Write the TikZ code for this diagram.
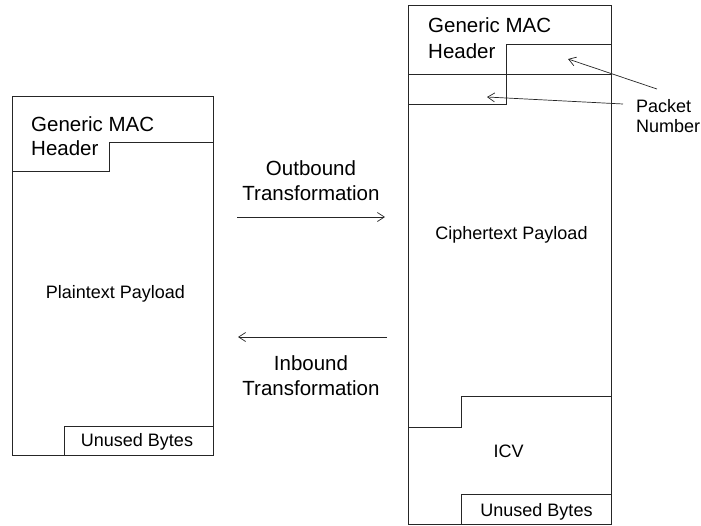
\documentclass[tikz,border=0pt]{standalone}
\usepackage{fontspec}
\setmainfont{Liberation Sans}
\usetikzlibrary{arrows.meta}
\begin{document}
\begin{tikzpicture}[x=1pt,y=-1pt,
  ln/.style={line width=0.7pt,draw=black!85},
  big/.style={font=\fontsize{20.5}{24}\selectfont,inner sep=0pt,anchor=base},
  small/.style={font=\fontsize{18}{21}\selectfont,inner sep=0pt,anchor=base},
  arr/.style={ln,-{Straight Barb[length=7pt,width=9pt,line width=0.7pt]}},
  frame/.style={ln,rectangle,anchor=north west,inner sep=0pt}]
\useasboundingbox (0,0) rectangle (701,525);
% left frame
\node[frame,minimum width=201pt,minimum height=359pt] (L) at (12,96) {};
\draw[ln] (12,171) -- (109,171) -- (109,142) -- (213,142);
\draw[ln] (64,455) -- (64,426) -- (213,426);
\node[big,anchor=base west] (lh1) at (31,131.7) {Generic MAC};
\node[big,anchor=base west] (lh2) at (31,155) {Header};
\node[small] (pl) at (115.5,298.3) {Plaintext Payload};
\node[small] (lu) at (137,446.7) {Unused Bytes};
% right frame
\node[frame,minimum width=203pt,minimum height=519pt] (R) at (408,5) {};
\draw[ln] (611,44) -- (506,44) -- (506,104) -- (408,104);
\draw[ln] (408,74) -- (611,74);
\draw[ln] (408,427) -- (461,427) -- (461,396) -- (611,396);
\draw[ln] (461,524) -- (461,494) -- (611,494);
\node[big,anchor=base west] (rh1) at (428,32.7) {Generic MAC};
\node[big,anchor=base west] (rh2) at (428,58.3) {Header};
\node[small] (cp) at (511.5,239) {Ciphertext Payload};
\node[small] (icv) at (508.5,457.3) {ICV};
\node[small] (ru) at (536.5,516) {Unused Bytes};
% packet number
\node[small,anchor=base west] (pk1) at (636,112) {Packet};
\node[small,anchor=base west] (pk2) at (636,132.5) {Number};
\coordinate (pa1) at (657,89);
\coordinate (pb1) at (568,59);
\coordinate (pa2) at (623,104);
\coordinate (pb2) at (487,97);
\draw[arr] (pa1) -- (pb1);
\draw[arr] (pa2) -- (pb2);
% transformations
\node[big] (ob1) at (311,175) {Outbound};
\node[big] (ob2) at (311,200) {Transformation};
\node[big] (ib1) at (311,370) {Inbound};
\node[big] (ib2) at (311,395) {Transformation};
\coordinate (o1) at (237,217);
\coordinate (o2) at (385,217);
\coordinate (i1) at (387,337);
\coordinate (i2) at (238,337);
\draw[arr] (o1) -- (o2);
\draw[arr] (i1) -- (i2);
\end{tikzpicture}
\end{document}
